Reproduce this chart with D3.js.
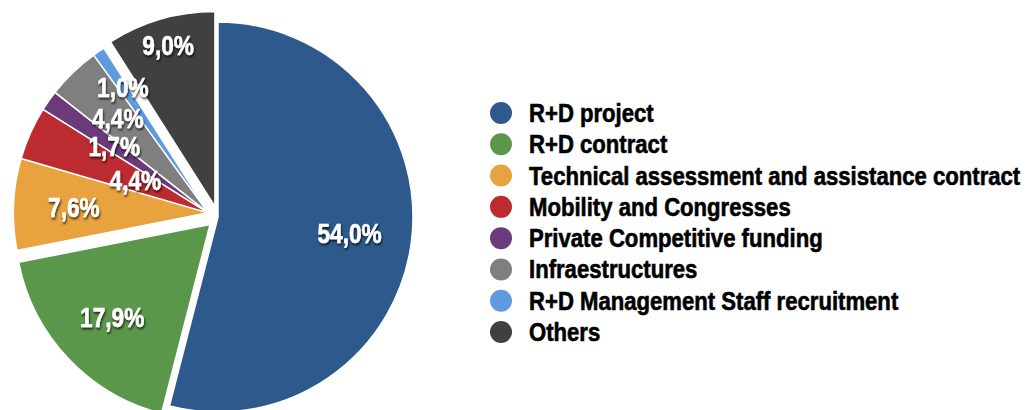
<!DOCTYPE html>
<html>
<head>
<meta charset="utf-8">
<script src="https://cdn.jsdelivr.net/npm/d3@7"></script>
<style>
  html, body { margin: 0; padding: 0; background: #fff; overflow: hidden; }
  svg text { font-family: "Liberation Sans", Arial, sans-serif; font-weight: bold; }
</style>
</head>
<body>
<div id="chart"></div>
<script>
// categories and shares (%)
const categories = ['R+D project', 'R+D contract', 'Technical assessment and assistance contract',
  'Mobility and Congresses', 'Private Competitive funding', 'Infraestructures',
  'R+D Management Staff recruitment', 'Others'];
const shares = [54.0, 17.9, 7.6, 4.4, 1.7, 4.4, 1.0, 9.0];
const shareLabels = ['54,0%', '17,9%', '7,6%', '4,4%', '1,7%', '4,4%', '1,0%', '9,0%'];
const colors = ['#2e598c', '#5b974a', '#e8a23e', '#bc2b2f', '#6b3a7a', '#7f7f7f', '#5f9ae0', '#404040'];

const width = 1029, height = 410
  ,cx = 218, cy = 217, radius = 195
  ,labelNarrow = 0.84   // squeeze the bold face to look condensed
  ,legendNarrow = 0.885;

// slices pulled out together (same group id share one offset)
const explodeGroup = [0, 1, 2, 2, 2, 2, 2, 3];
const explodeDist = {0: 0, 1: 11, 2: 10.5, 3: 11};
// label distance from the centre, as share of radius
const labelR = [0.68, 0.69, 0.69, 0.41, 0.59, 0.67, 0.78, 0.86];

const svg = d3.select('#chart').append('svg')
  .attr('width', width)
  .attr('height', height);

const defs = svg.append('defs');
defs.append('filter').attr('id', 'shadow')
  .attr('x', '-20%').attr('y', '-30%').attr('width', '140%').attr('height', '160%')
  .append('feDropShadow')
  .attr('dx', 1).attr('dy', 2).attr('stdDeviation', 1.2)
  .attr('flood-color', '#000').attr('flood-opacity', 0.75);

const pie = d3.pie().sort(null).value((d) => d);
const arcs = pie(shares);

// offset per explode group, along the group's middle angle
const offsets = arcs.map((a, i) => {
  const g = explodeGroup[i];
  const members = arcs.filter((b, j) => explodeGroup[j] === g);
  const mid = (d3.min(members, (m) => m.startAngle) + d3.max(members, (m) => m.endAngle)) / 2;
  const dist = explodeDist[g];
  return [dist * Math.sin(mid), -dist * Math.cos(mid)];
});

const arc = d3.arc().innerRadius(0).outerRadius(radius);

const pieG = svg.append('g').attr('transform', `translate(${cx}, ${cy})`);

pieG.selectAll('path.slice')
  .data(arcs)
  .enter().append('path')
  .attr('class', 'slice')
  .attr('d', arc)
  .attr('fill', (d, i) => colors[i])
  .attr('stroke', '#fff')
  .attr('stroke-width', 1.5)
  .attr('stroke-linejoin', 'round')
  .attr('transform', (d, i) => `translate(${offsets[i][0]}, ${offsets[i][1]})`);

const fontSize = 27;
pieG.selectAll('text.label')
  .data(arcs)
  .enter().append('text')
  .attr('class', 'label')
  .attr('transform', (d, i) => {
    const r = labelR[i] * radius;
    const la = d3.arc().innerRadius(r).outerRadius(r);
    const c = la.centroid(d);
    return `translate(${c[0] + offsets[i][0]}, ${c[1] + offsets[i][1]}) scale(${labelNarrow}, 1)`;
  })
  .attr('text-anchor', 'middle')
  .attr('dy', fontSize * 0.36)
  .attr('font-size', fontSize)
  .attr('fill', '#fff')
  .attr('stroke', '#fff')
  .attr('stroke-width', 0.5)
  .attr('filter', 'url(#shadow)')
  .text((d, i) => shareLabels[i]);

// legend
const legendY = d3.scalePoint()
  .domain(categories)
  .range([113, 332]);

const legend = svg.append('g').attr('class', 'legend');
const rows = legend.selectAll('g')
  .data(categories)
  .enter().append('g')
  .attr('transform', (d) => `translate(501, ${legendY(d)})`);

rows.append('circle')
  .attr('r', 11)
  .attr('fill', (d, i) => colors[i]);

rows.append('text')
  .attr('transform', `translate(28, 9) scale(${legendNarrow}, 1)`)
  .attr('font-size', 25)
  .attr('fill', '#000')
  .attr('stroke', '#000')
  .attr('stroke-width', 0.6)
  .text((d) => d);
</script>
</body>
</html>
